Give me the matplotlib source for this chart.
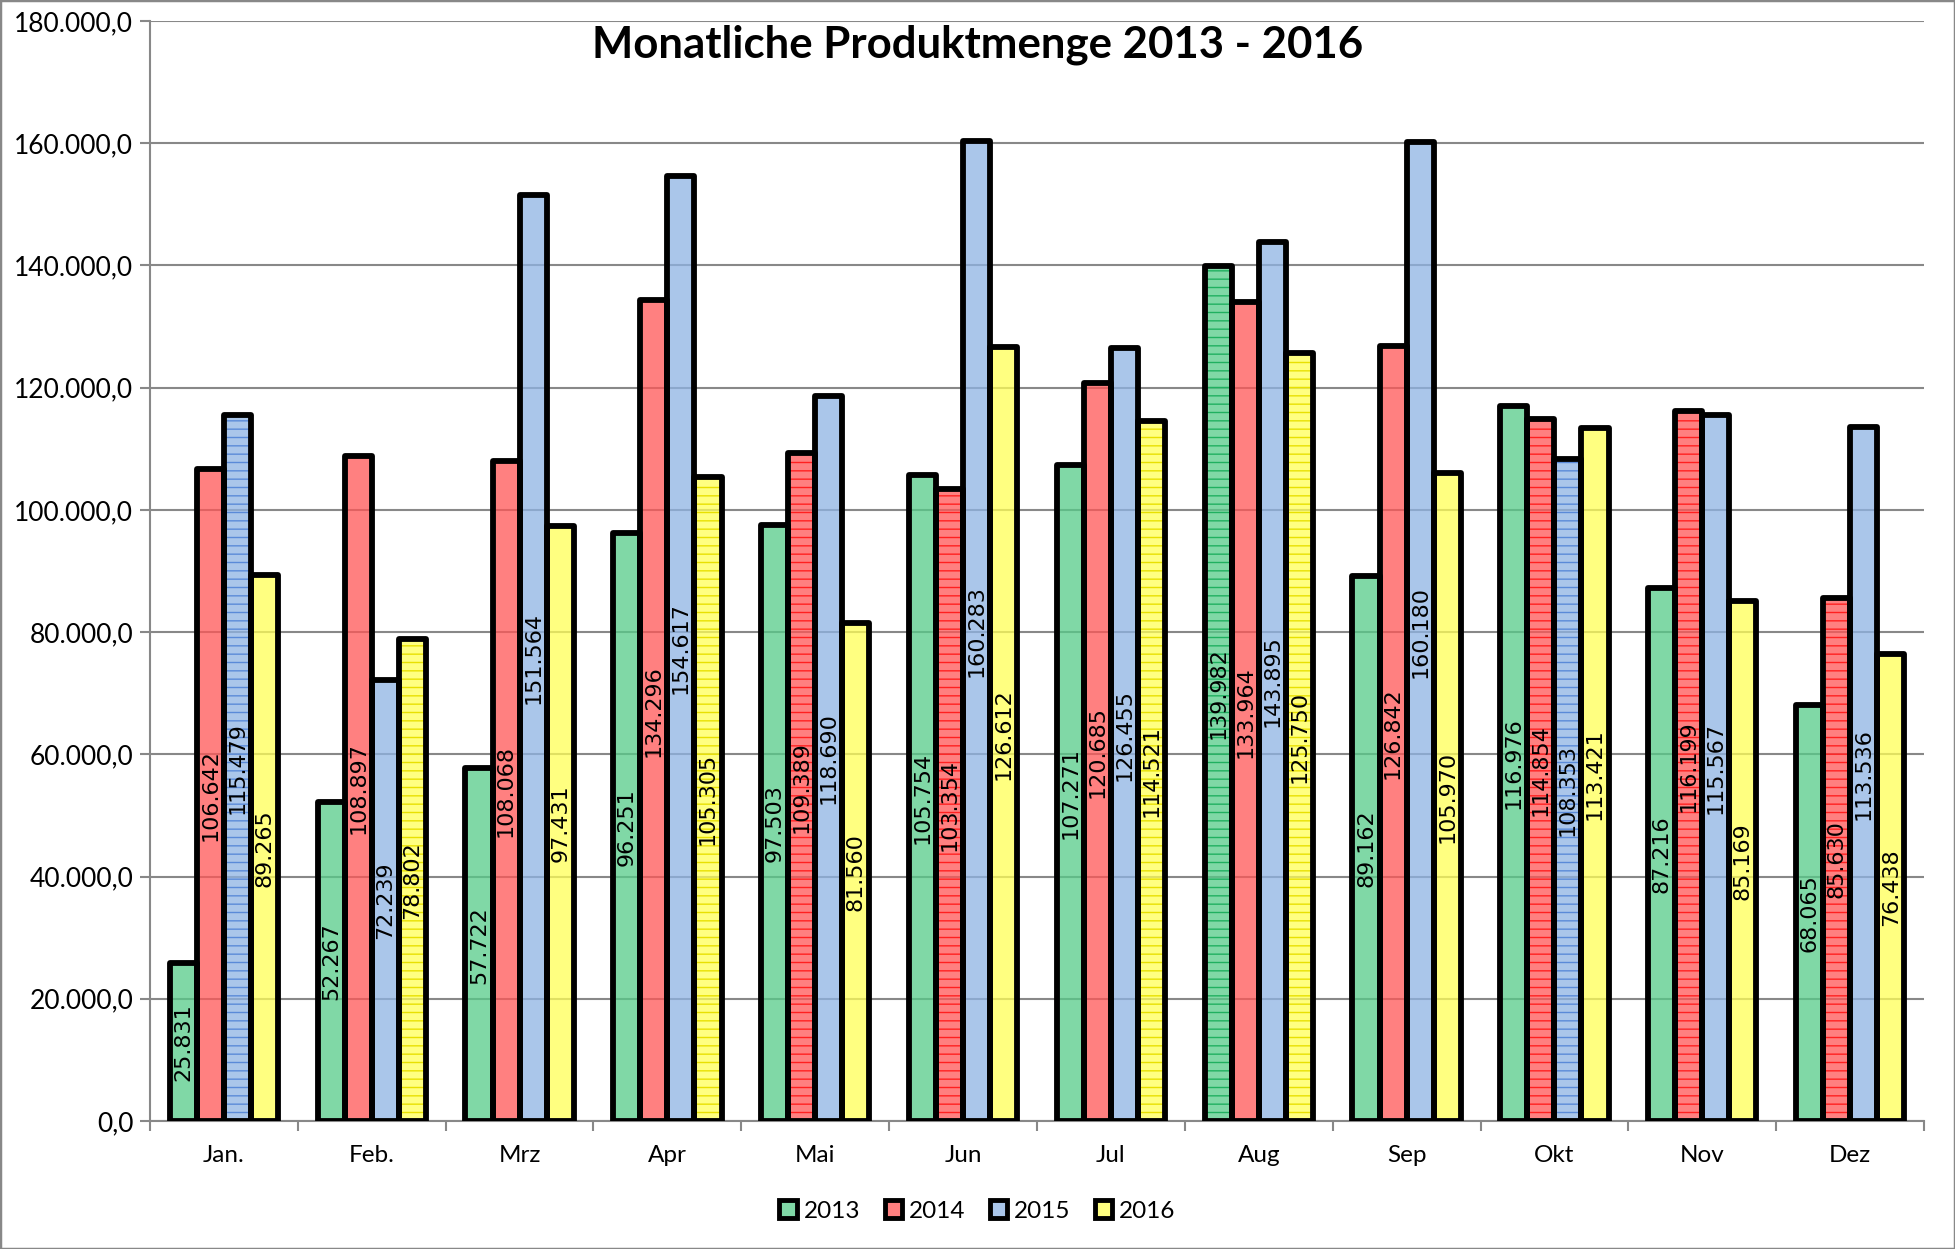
import matplotlib
matplotlib.use("Agg")
import matplotlib.pyplot as plt
import matplotlib.patches as mpatches
from matplotlib.ticker import FuncFormatter, FixedLocator
import numpy as np

months = ["Jan.", "Feb.", "Mrz", "Apr", "Mai", "Jun", "Jul", "Aug", "Sep", "Okt", "Nov", "Dez"]
years = ["2013", "2014", "2015", "2016"]
v2013 = [25831, 52267, 57722, 96251, 97503, 105754, 107271, 139982, 89162, 116976, 87216, 68065]
v2014 = [106642, 108897, 108068, 134296, 109389, 103354, 120685, 133964, 126842, 114854, 116199, 85630]
v2015 = [115479, 72239, 151564, 154617, 118690, 160283, 126455, 143895, 160180, 108353, 115567, 113536]
v2016 = [89265, 78802, 97431, 105305, 81560, 126612, 114521, 125750, 105970, 113421, 85169, 76438]
series = [v2013, v2014, v2015, v2016]
title = "Monatliche Produktmenge 2013 - 2016"

# styling
fills = [(86/255, 203/255, 136/255, 0.75), (1.0, 86/255, 86/255, 0.75),
         (142/255, 179/255, 228/255, 0.75), (1.0, 1.0, 86/255, 0.75)]
hatch_cols = ["#20b060", "#ff2020", "#5a8ad8", "#e8e000"]
hatched = {(0, 7), (1, 4), (1, 5), (1, 9), (1, 10), (1, 11), (2, 0), (2, 9),
           (3, 1), (3, 3), (3, 6), (3, 7)}

plt.rcParams['hatch.linewidth'] = 1.0
W, H = 1955, 1249
fig = plt.figure(figsize=(W/100, H/100), dpi=100)
ax = fig.add_axes([150/W, 1-1121/H, (1924-150)/W, (1121-21)/H])

x = np.arange(len(months))
bw = 0.183
n = len(series)
for i, vals in enumerate(series):
    pos = x + (i - (n-1)/2) * bw
    for j, (p, v) in enumerate(zip(pos, vals)):
        if (i, j) in hatched:
            ax.bar(p, v, bw, color=fills[i], edgecolor=hatch_cols[i], linewidth=0,
                   hatch='--', zorder=2)
        else:
            ax.bar(p, v, bw, color=fills[i], linewidth=0, zorder=2)
    ax.bar(pos, vals, bw, facecolor='none', edgecolor='black', linewidth=4.2,
           joinstyle='round', zorder=3)
    for p, v in zip(pos, vals):
        ax.text(p, v/2, f"{v:,}".replace(",", "."), rotation=90, ha='center', va='center',
                fontsize=16, family='DejaVu Sans', color='black', zorder=4)

ax.set_xlim(-0.5, len(months)-0.5)
ax.set_ylim(0, 180000)
ax.yaxis.set_major_locator(FixedLocator(np.arange(0, 180001, 20000)))
ax.yaxis.set_major_formatter(FuncFormatter(lambda v, _: f"{v:,.1f}".replace(",", "X").replace(".", ",").replace("X", ".")))
ax.set_xticks(np.arange(-0.5, len(months), 1.0))
ax.set_xticklabels([])
ax.set_xticks(x, minor=True)
ax.set_xticklabels(months, minor=True)
ax.tick_params(axis='x', which='major', direction='out', length=7, width=1.5, color='#888888')
ax.tick_params(axis='x', which='minor', length=0, pad=17, labelsize=17.5)
ax.tick_params(axis='y', direction='out', length=7, width=1.5, color='#888888', labelsize=19, pad=5)
for lab in ax.get_xticklabels(minor=True) + ax.get_yticklabels():
    lab.set_family('Lato')

ax.grid(axis='y', color='#888888', linewidth=1.5, zorder=0)
ax.set_axisbelow(True)
for s in ['top', 'right']:
    ax.spines[s].set_visible(False)
for s in ['left', 'bottom']:
    ax.spines[s].set_color('#888888')
    ax.spines[s].set_linewidth(1.5)

fig.text(0.5, 1-45/H, title, ha='center', va='center', fontsize=31.5, fontweight='bold', family='Lato')

handles = [mpatches.Patch(facecolor=fills[i], edgecolor='black', linewidth=3.5) for i in range(n)]
fig.legend(handles, years, loc='center', bbox_to_anchor=(0.5, 1-1211/H), ncol=4, frameon=False,
           handlelength=0.7, handleheight=0.7, handletextpad=0.3, columnspacing=1.0,
           prop={'family': 'Lato', 'size': 17.5})

fig.patches.append(mpatches.Rectangle((0, 0), 1, 1, transform=fig.transFigure, fill=False,
                                      edgecolor='#888888', linewidth=2.5))
fig.savefig("out.png", dpi=100)
